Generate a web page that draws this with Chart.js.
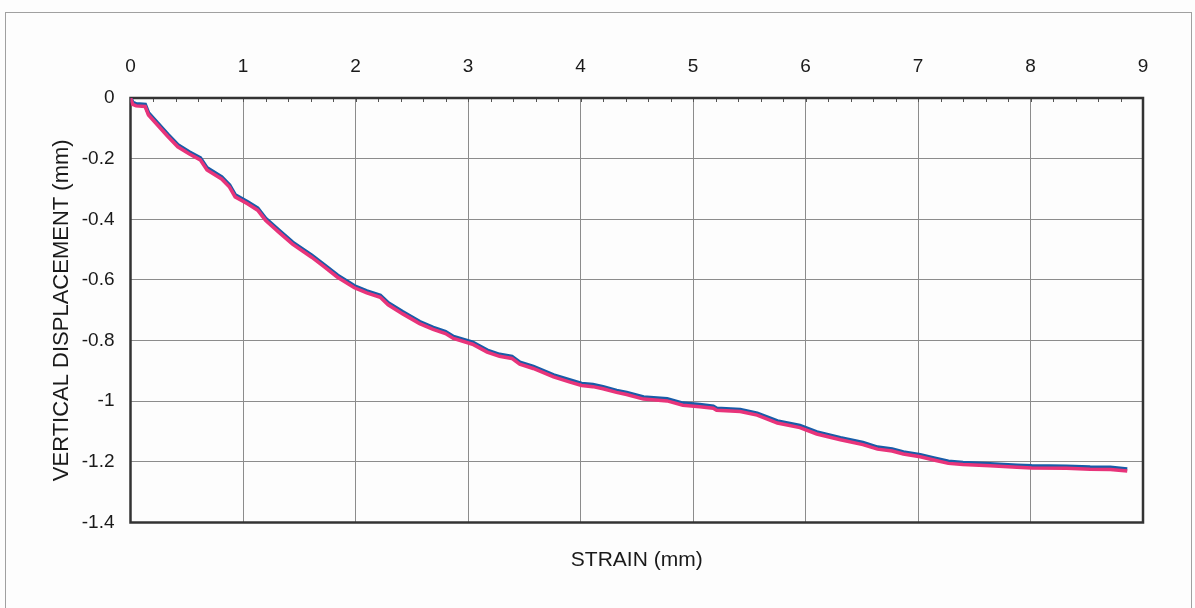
<!DOCTYPE html>
<html>
<head>
<meta charset="utf-8">
<script src="https://cdn.jsdelivr.net/npm/chart.js@4/dist/chart.umd.min.js"></script>
<style>
  html, body { margin: 0; padding: 0; background: #fff; }
  #wrap { width: 1195px; height: 608px; position: relative; }
</style>
</head>
<body>
<div id="wrap"><canvas id="strainChart"></canvas></div>
<script>
// strain (mm) along the x axis
let strain = [0, 0.02, 0.05, 0.13, 0.16, 0.24, 0.33, 0.42, 0.52, 0.62, 0.68, 0.81, 0.88, 0.93, 1.04, 1.13, 1.2, 1.32, 1.44, 1.61,
    1.72, 1.84, 1.99, 2.1, 2.22, 2.29, 2.42, 2.57, 2.69, 2.8, 2.87, 3.04, 3.17, 3.28, 3.39, 3.46, 3.58, 3.76, 3.9, 4.01,
    4.11, 4.2, 4.32, 4.41, 4.56, 4.77, 4.91, 5.06, 5.18, 5.21, 5.42, 5.57, 5.75, 5.95, 6.1, 6.31, 6.51, 6.64, 6.77, 6.87,
    7.02, 7.14, 7.27, 7.4, 7.64, 7.88, 8.01, 8.32, 8.53, 8.71, 8.86];
// vertical displacement (mm), blue trace
let dispBlue = [0, -0.015, -0.02, -0.022, -0.05, -0.083, -0.12, -0.155, -0.178, -0.198, -0.231, -0.261, -0.288, -0.32, -0.343, -0.364, -0.397, -0.437, -0.476, -0.519,
    -0.55, -0.585, -0.62, -0.637, -0.651, -0.676, -0.706, -0.738, -0.757, -0.771, -0.787, -0.806, -0.832, -0.846, -0.853, -0.872, -0.886, -0.914, -0.93, -0.942,
    -0.946, -0.953, -0.965, -0.972, -0.987, -0.993, -1.007, -1.012, -1.017, -1.024, -1.028, -1.04, -1.066, -1.081, -1.102, -1.121, -1.137, -1.152, -1.158, -1.168,
    -1.177, -1.188, -1.199, -1.203, -1.207, -1.212, -1.214, -1.215, -1.218, -1.219, -1.224];
// vertical displacement (mm), pink trace just underneath
let dispPink = [0, -0.021, -0.026, -0.028, -0.056, -0.089, -0.126, -0.161, -0.184, -0.204, -0.237, -0.267, -0.294, -0.326, -0.349, -0.37, -0.403, -0.443, -0.482, -0.525,
    -0.556, -0.591, -0.626, -0.643, -0.657, -0.682, -0.712, -0.744, -0.763, -0.777, -0.793, -0.812, -0.838, -0.852, -0.859, -0.878, -0.892, -0.92, -0.936, -0.948,
    -0.952, -0.959, -0.971, -0.978, -0.993, -0.999, -1.013, -1.018, -1.023, -1.03, -1.034, -1.046, -1.072, -1.087, -1.108, -1.127, -1.143, -1.158, -1.164, -1.174,
    -1.183, -1.194, -1.205, -1.209, -1.213, -1.218, -1.22, -1.221, -1.224, -1.225, -1.23];

let xTickLabels = ['0', '1', '2', '3', '4', '5', '6', '7', '8', '9'];
let yTickLabels = ['0', '-0.2', '-0.4', '-0.6', '-0.8', '-1', '-1.2', '-1.4'];

let font = "'Liberation Sans', Arial, sans-serif";

let bluePts = [];
let pinkPts = [];
for (let i = 0; i < strain.length; i++) {
    bluePts.push({x: strain[i], y: dispBlue[i]});
    pinkPts.push({x: strain[i], y: dispPink[i]});
}

// paper background, outer frame, plot box and small ticks on the top edge
let frame = {
    id: 'frame',
    beforeDraw(chart) {
        let c = chart.ctx;
        c.save();
        c.fillStyle = '#fdfdfd';
        c.fillRect(0, 0, chart.width, chart.height);
        c.strokeStyle = '#a0a0a0';
        c.lineWidth = 1;
        c.strokeRect(5.5, 12.5, 1186, 700);
        c.restore();
    },
    beforeDatasetsDraw(chart) {
        let a = chart.chartArea;
        let c = chart.ctx;
        let xs = chart.scales.x;
        c.save();
        c.strokeStyle = '#555';
        c.lineWidth = 1;
        for (let v = 0.2; v < 9; v += 0.2) {
            let px = Math.round(xs.getPixelForValue(v)) + 0.5;
            c.beginPath();
            c.moveTo(px, a.top);
            c.lineTo(px, a.top + 4);
            c.stroke();
        }
        c.strokeStyle = '#333';
        c.lineWidth = 2.5;
        c.strokeRect(a.left, a.top, a.right - a.left, a.bottom - a.top);
        c.restore();
    }
};

let ctx = document.getElementById('strainChart');
let myChart = new Chart(ctx, {
    type: 'scatter',
    data: {
        datasets: [{
            label: 'pink',
            data: pinkPts,
            showLine: true,
            borderColor: 'rgb(232, 52, 122)',
            borderWidth: 3.5,
            pointRadius: 0,
            tension: 0
        }, {
            label: 'blue',
            data: bluePts,
            showLine: true,
            borderColor: 'rgb(24, 92, 168)',
            borderWidth: 4,
            pointRadius: 0,
            tension: 0
        }]
    },
    options: {
        responsive: true,
        maintainAspectRatio: false,
        animation: false,
        layout: {padding: {left: 0, right: 52, top: 0, bottom: 0}},
        plugins: {legend: {display: false}, tooltip: {enabled: false}},
        scales: {
            x: {
                type: 'linear',
                position: 'top',
                min: 0,
                max: 9,
                afterFit: function (s) { s.height = 98; },
                ticks: {
                    stepSize: 1,
                    padding: 20,
                    color: '#1a1a1a',
                    font: {family: font, size: 19},
                    callback: function (v) { return xTickLabels[Math.round(v)]; }
                },
                grid: {color: '#8c8c8c', lineWidth: 1, drawTicks: false},
                border: {display: false}
            },
            x2: {
                type: 'linear',
                axis: 'x',
                position: 'bottom',
                min: 0,
                max: 9,
                afterFit: function (s) { s.height = 85.5; },
                ticks: {display: false},
                grid: {display: false, drawTicks: false},
                border: {display: false},
                title: {
                    display: true,
                    text: 'STRAIN (mm)',
                    color: '#1a1a1a',
                    font: {family: font, size: 21},
                    padding: {top: 0, bottom: 35}
                }
            },
            y: {
                type: 'linear',
                min: -1.4,
                max: 0,
                afterFit: function (s) { s.width = 130.5; },
                ticks: {
                    stepSize: 0.2,
                    padding: 16,
                    color: '#1a1a1a',
                    font: {family: font, size: 19},
                    callback: function (v) { return yTickLabels[Math.round(-v / 0.2)]; }
                },
                grid: {color: '#8c8c8c', lineWidth: 1, drawTicks: false},
                border: {display: false},
                title: {
                    display: true,
                    text: 'VERTICAL DISPLACEMENT (mm)',
                    color: '#1a1a1a',
                    font: {family: font, size: 22},
                    padding: {top: 49, bottom: 0}
                }
            }
        }
    },
    plugins: [frame]
});
</script>
</body>
</html>
